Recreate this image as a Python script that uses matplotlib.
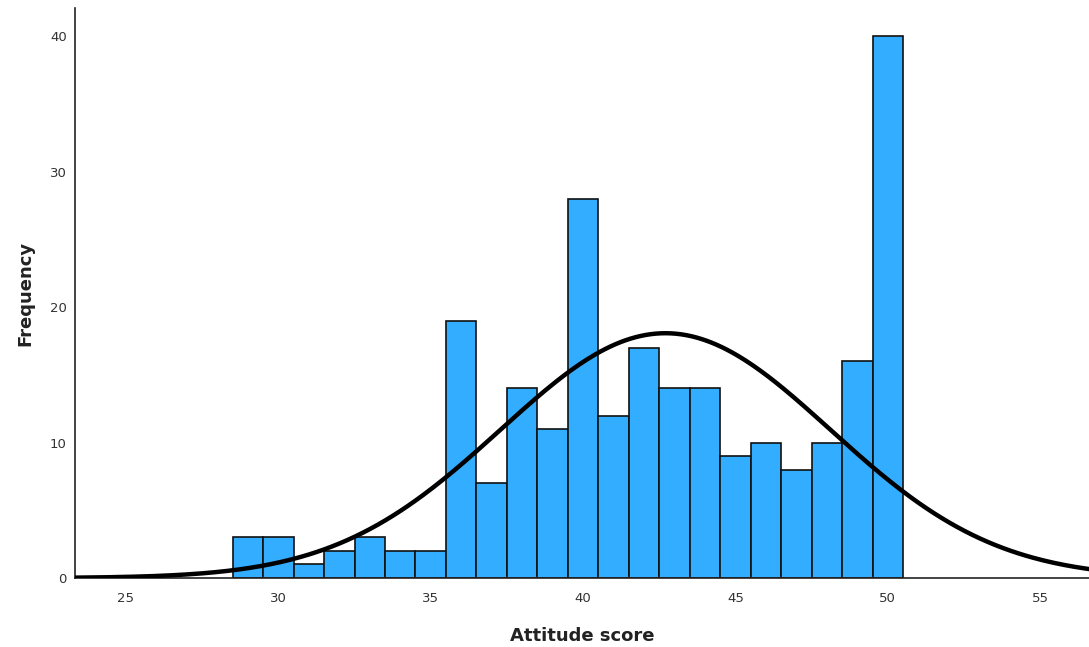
import numpy as np
import matplotlib.pyplot as plt

scores = [29, 30, 31, 32, 33, 34, 35, 36, 37, 38, 39, 40, 41, 42, 43, 44, 45, 46, 47, 48, 49, 50]
counts = [3, 3, 1, 2, 3, 2, 2, 19, 7, 14, 11, 28, 12, 17, 14, 14, 9, 10, 8, 10, 16, 40]
xticks = [25, 30, 35, 40, 45, 50, 55]
yticks = [0, 10, 20, 30, 40]

scores_arr = np.array(scores, dtype=float)
counts_arr = np.array(counts, dtype=float)
n = counts_arr.sum()
mean = (scores_arr * counts_arr).sum() / n
sd = np.sqrt(((scores_arr - mean) ** 2 * counts_arr).sum() / (n - 1))

fig = plt.figure(figsize=(10.89, 6.47), dpi=100)
ax = fig.add_axes([0.0689, 0.1066, 0.9311, 0.881])

ax.bar(scores, counts, width=1.0, color='#33adff', edgecolor='#111111', linewidth=1.2, zorder=2)

xs = np.linspace(23.3, 56.7, 400)
ys = n / (sd * np.sqrt(2 * np.pi)) * np.exp(-0.5 * ((xs - mean) / sd) ** 2)
ax.plot(xs, ys, color='black', linewidth=3.2, zorder=3)

ax.set_xlim(23.33, 56.6)
ax.set_ylim(0, 42.1)
ax.set_xticks(xticks)
ax.set_yticks(yticks)
ax.tick_params(length=0, labelsize=9.5, colors='#333333', pad=10)
ax.tick_params(axis='y', pad=6)
for s in ['top', 'right']:
    ax.spines[s].set_visible(False)
for s in ['left', 'bottom']:
    ax.spines[s].set_color('#222222')
    ax.spines[s].set_linewidth(1.2)

ax.set_xlabel('Attitude score', fontsize=13, fontweight='bold', color='#222222', labelpad=16)
ax.set_ylabel('Frequency', fontsize=13, fontweight='bold', color='#222222', labelpad=11)

plt.savefig('out.png')
